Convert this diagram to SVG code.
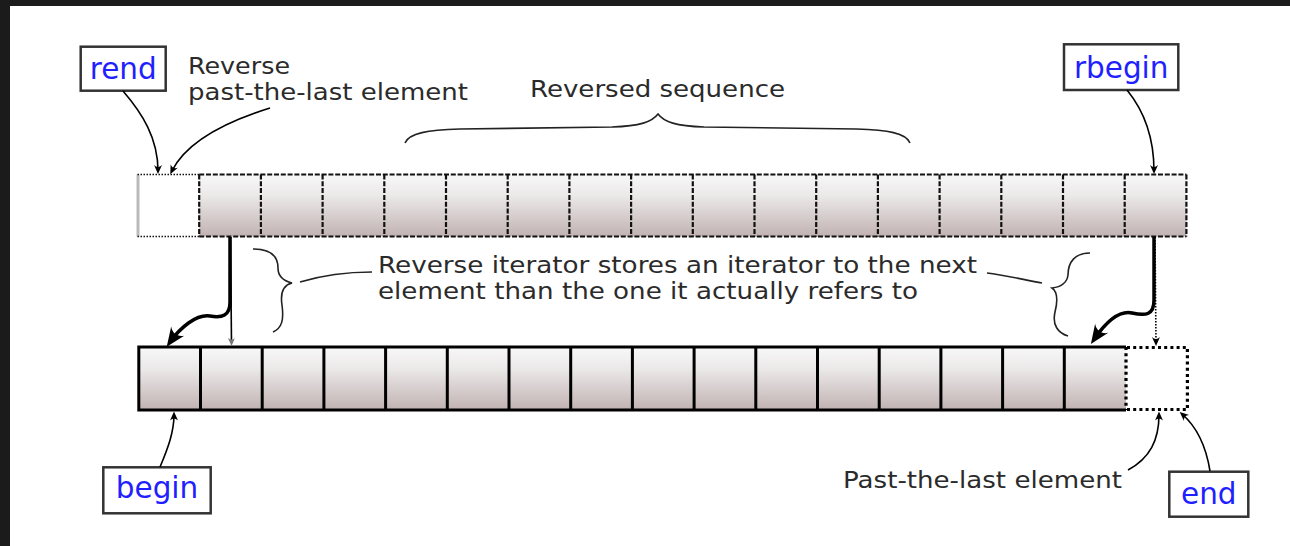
<svg xmlns="http://www.w3.org/2000/svg" width="1290" height="546" viewBox="0 0 1290 546">
<style>
.lbl{font-family:"DejaVu Sans",Verdana,sans-serif;font-size:23.5px;fill:#2b2b2b}
.it{font-family:"DejaVu Sans",Verdana,sans-serif;font-size:29.5px;fill:#1f1fff;text-anchor:middle}
.box{fill:#fff;stroke:#333;stroke-width:2.5}
.cell{fill:url(#g)}
.con{fill:none;stroke:#000;stroke-width:1.6}
.thick{fill:none;stroke:#000;stroke-width:3.5}
.brace{fill:none;stroke:#222;stroke-width:1.6}
.dash{stroke:#111;stroke-width:2.2;stroke-dasharray:5,1.8;fill:none}
.dot{stroke:#111;stroke-width:1.6;stroke-dasharray:1.5,1.5;fill:none}
.solid{stroke:#000;stroke-width:3;fill:none}
.bdot{stroke:#000;stroke-width:3.2;stroke-dasharray:3,3.2;fill:none}
</style>
<defs>
<linearGradient id="g" x1="0" y1="0" x2="0" y2="1">
<stop offset="0" stop-color="#f8f8f8"/>
<stop offset="0.35" stop-color="#ebe8e8"/>
<stop offset="1" stop-color="#c1b2b2"/>
</linearGradient>
<marker id="sm" viewBox="-10 -5 11 10" refX="-3" refY="0" markerWidth="11" markerHeight="10" markerUnits="userSpaceOnUse" orient="auto">
<path d="M0,0 L-9,-4 C-6.5,-1.5 -6.5,1.5 -9,4 Z" fill="#000"/>
</marker>
<marker id="smg" viewBox="-10 -5 11 10" refX="-3" refY="0" markerWidth="11" markerHeight="10" markerUnits="userSpaceOnUse" orient="auto">
<path d="M0,0 L-8,-3.5 C-6,-1.3 -6,1.3 -8,3.5 Z" fill="#777"/>
</marker>
<marker id="big" viewBox="-20 -10 22 20" refX="-6" refY="0" markerWidth="22" markerHeight="20" markerUnits="userSpaceOnUse" orient="auto">
<path d="M0,0 L-19,-8 C-14,-3 -14,3 -19,8 Z" fill="#000"/>
</marker>
</defs>
<rect x="0" y="0" width="1290" height="546" fill="#fff"/>
<rect x="0" y="0" width="1290" height="6" fill="#1b1b1b"/>
<rect x="0" y="0" width="10" height="546" fill="#1b1b1b"/>

<g id="top-array">
<rect class="cell" x="199.2" y="174.5" width="987.2" height="62"/>
<line x1="138" y1="174.5" x2="138" y2="236.5" stroke="#bbb" stroke-width="3"/>
<path class="dot" d="M137.5,174.5 H199.2 M137.5,236.5 H199.2"/>
<path class="dash" d="M199.2,174.5 H1186.4 M199.2,236.5 H1186.4"/>
<path class="dash" stroke-width="2.6" d="M199.2,174.5 V236.5 M260.9,174.5 V236.5 M322.6,174.5 V236.5 M384.3,174.5 V236.5 M446,174.5 V236.5 M507.7,174.5 V236.5 M569.4,174.5 V236.5 M631.1,174.5 V236.5 M692.8,174.5 V236.5 M754.5,174.5 V236.5 M816.2,174.5 V236.5 M877.9,174.5 V236.5 M939.6,174.5 V236.5 M1001.3,174.5 V236.5 M1063,174.5 V236.5 M1124.7,174.5 V236.5"/>
<path class="dash" stroke="#777" d="M1186.4,174.5 V236.5"/>
</g>

<g id="bottom-array">
<rect class="cell" x="138.8" y="347" width="987.2" height="63"/>
<path class="solid" d="M1126,347 H138.8 V410 H1126"/>
<path class="solid" d="M200.5,347 V410 M262.2,347 V410 M323.9,347 V410 M385.6,347 V410 M447.3,347 V410 M509,347 V410 M570.7,347 V410 M632.4,347 V410 M694.1,347 V410 M755.8,347 V410 M817.5,347 V410 M879.2,347 V410 M940.9,347 V410 M1002.6,347 V410 M1064.3,347 V410"/>
<path class="bdot" stroke-width="2.2" stroke-dasharray="2,1.5" d="M1126,347 V410"/>
<path class="bdot" d="M1127,347.5 H1187.4 V409.5 H1127"/>
</g>

<g id="label-rend">
<rect class="box" x="80.7" y="46.7" width="85" height="44"/>
<text class="it" x="123.2" y="79">rend</text>
</g>
<g id="label-rbegin">
<rect class="box" x="1064" y="44.3" width="114.3" height="45.7"/>
<text class="it" x="1121.2" y="77.5">rbegin</text>
</g>
<g id="label-begin">
<rect class="box" x="103.3" y="467.3" width="107.4" height="46"/>
<text class="it" x="157" y="498.3">begin</text>
</g>
<g id="label-end">
<rect class="box" x="1169.3" y="471.7" width="79" height="45"/>
<text class="it" x="1208.8" y="504">end</text>
</g>

<g id="note-reverse-past">
<text class="lbl" x="188" y="74" textLength="102" lengthAdjust="spacingAndGlyphs">Reverse</text>
<text class="lbl" x="188" y="100" textLength="280" lengthAdjust="spacingAndGlyphs">past-the-last element</text>
</g>
<g id="note-reversed-sequence">
<text class="lbl" x="530" y="97" textLength="255" lengthAdjust="spacingAndGlyphs">Reversed sequence</text>
<path class="brace" d="M405,143 C409,133 428,130 460,129 L612,127 C640,126 652,122 658,114 C664,122 676,126 704,127 L856,129 C888,130 906,133 910,143"/>
</g>
<g id="note-stores">
<text class="lbl" x="378" y="273" textLength="599" lengthAdjust="spacingAndGlyphs">Reverse iterator stores an iterator to the next</text>
<text class="lbl" x="378" y="299" textLength="540" lengthAdjust="spacingAndGlyphs">element than the one it actually refers to</text>
<path class="brace" d="M253,249 C270,249 278,256 278,268 C278,277 284,281 292,283 C284,285 280,292 282,305 C284,320 282,328 273,332"/>
<path class="brace" d="M1090,253 C1075,253 1068,262 1068,275 C1067,283 1060,287 1052,288 C1058,292 1058,300 1055,312 C1052,325 1058,333 1068,336"/>
</g>
<g id="note-past-the-last">
<text class="lbl" x="843" y="488" textLength="279" lengthAdjust="spacingAndGlyphs">Past-the-last element</text>
</g>

<g id="connectors">
<path class="con" marker-end="url(#sm)" d="M123,91 C142,113 158,138 158,171"/>
<path class="con" marker-end="url(#sm)" d="M270,108 C225,122 186,142 171.6,171.5"/>
<path class="con" marker-end="url(#sm)" d="M1127,90 C1145,112 1154,138 1154,171"/>
<path class="con" marker-end="url(#sm)" d="M160,467 C168,448 174,432 174,414.5"/>
<path class="con" marker-end="url(#sm)" d="M1210,471 C1206,446 1197,427 1182,414"/>
<path class="con" marker-end="url(#sm)" d="M1128,470 C1150,458 1159,440 1159,414.5"/>
<path class="con" stroke="#777" stroke-width="1.2" marker-end="url(#smg)" d="M230.5,237 L231.5,343"/>
<path class="con" stroke-dasharray="1.5,1.5" marker-end="url(#sm)" d="M1155,237 L1156,343"/>
<path class="thick" marker-end="url(#big)" d="M230,237 L230,302 C230,316 222,318 210,316 C196,314 180,328 170.2,341.8"/>
<path class="thick" marker-end="url(#big)" d="M1154,237 L1154,300 C1154,315 1146,316 1132,313 C1118,310 1104,325 1094.3,339"/>
<path class="brace" d="M300,282 C320,276 345,272 372,272"/>
<path class="brace" d="M1042,283 C1025,280 1005,275 987,273"/>
</g>
</svg>
